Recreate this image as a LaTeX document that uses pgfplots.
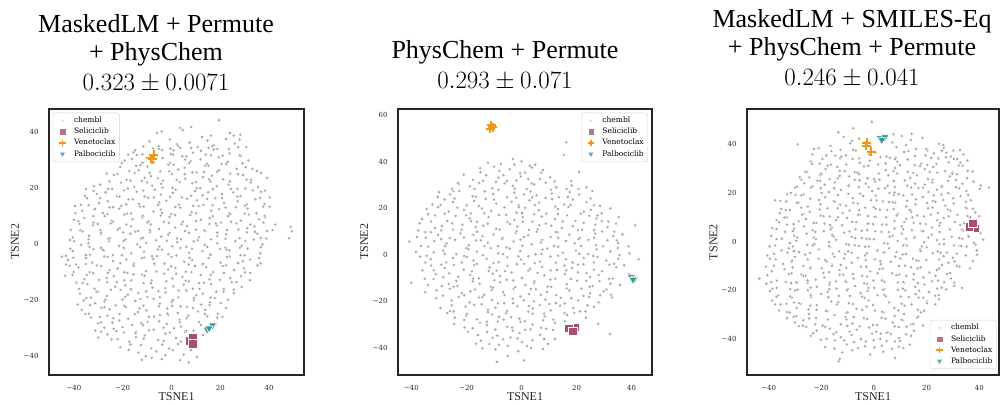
\documentclass[border=0pt]{standalone}
\usepackage[no-math]{fontspec}
\setmainfont{Liberation Serif}
\newfontfamily\dvs{DejaVu Serif}
\usepackage{pgfplots}
\pgfplotsset{compat=1.18}

\definecolor{selc}{RGB}{166,80,108}
\definecolor{venc}{RGB}{240,150,24}
\definecolor{palc}{RGB}{56,150,146}
\definecolor{frame}{RGB}{38,38,38}

\newcommand{\tickfont}{\dvs\fontsize{7}{8}\selectfont}
\newcommand{\titlefont}{\fontsize{26}{28}\selectfont}

\pgfplotsset{
  tsne/.style={
    scale only axis, height=266pt, anchor=south west,
    axis line style={draw=frame, line width=1.2pt},
    major tick length=0pt, tick style={draw=none},
    ticklabel style={font=\tickfont, text=frame},
    xtick={-40,-20,0,20,40}, xticklabels={−40,−20,0,20,40},
    xticklabel style={yshift=-7pt}, yticklabel style={xshift=-7pt},
    xlabel={TSNE1}, ylabel={TSNE2},
    every axis x label/.style={at={(axis description cs:0.5,-0.0977)}, anchor=base,
      font=\fontsize{12}{14}\selectfont, text=frame},
    every axis y label/.style={at={(axis description cs:-0.118,0.5)}, rotate=90, anchor=base,
      font=\fontsize{12}{14}\selectfont, text=frame},
    legend style={font=\dvs\fontsize{7.5}{8.5}\selectfont, draw=black!18, rounded corners=2pt,
      fill=white, fill opacity=0.8, text opacity=1, inner sep=2.5pt, row sep=0.6pt,
      nodes={inner sep=1.5pt, text height=5.8pt, text depth=1.7pt}},
    legend cell align=left,
    legend image code/.code={\path[draw=none, fill=none] (0pt,-2pt) rectangle (17pt,2pt);
      \draw[##1] plot coordinates {(7pt,0pt)};},
  },
  chem/.style={only marks, mark=*, mark size=1.8pt, mark options={fill=black!36, draw=white, line width=0.4pt}},
  sel/.style={only marks, mark=square*, mark size=4.3pt, mark options={fill=selc, draw=white, line width=0.6pt}},
  ven/.style={only marks, mark=+, mark size=4.5pt, mark options={draw=venc, line width=2.0pt}},
  pal/.style={only marks, mark=triangle*, mark size=4.6pt, mark options={rotate=180, fill=palc, draw=white, line width=0.6pt}},
}
\newcommand{\legendentries}{%
  \addlegendimage{only marks, mark=*, mark size=1.3pt, mark options={fill=black!30, draw=white, line width=0.2pt}}
  \addlegendentry{chembl}
  \addlegendimage{only marks, mark=square*, mark size=3.2pt, mark options={fill=selc, draw=white, line width=0.3pt}}
  \addlegendentry{Seliciclib}
  \addlegendimage{only marks, mark=+, mark size=3.2pt, mark options={draw=venc, line width=1.5pt}}
  \addlegendentry{Venetoclax}
  \addlegendimage{only marks, mark=triangle*, mark size=3.4pt, mark options={rotate=180, fill=palc, draw=white, line width=0.3pt}}
  \addlegendentry{Palbociclib}
}
\tikzset{ttl/.style={anchor=base, font=\titlefont, inner sep=0pt}}

\begin{document}
\begin{tikzpicture}
\useasboundingbox (0pt,0pt) rectangle (1000pt,404pt);

% ---------- panel 1 ----------
\begin{axis}[tsne, at={(49pt,29pt)}, width=255pt,
    xmin=-50.2, xmax=54.3, ymin=-46.9, ymax=48.2,
    ytick={-40,-20,0,20,40}, yticklabels={−40,−20,0,20,40},
    legend style={at={(0.015,0.986)}, anchor=north west}]
\legendentries
\addplot[chem, forget plot] coordinates {
(-6.0,39.6) (-4.0,40.2) (3.6,41.4) (4.7,40.6) (8.1,41.7) (12.5,38.2) (16.2,38.7) (19.5,44.2) (24.0,39.6) (25.5,38.7) (28.2,39.0) (27.9,37.3) (39.2,23.6) (-17.7,31.9) (-15.6,32.7) (-0.5,34.0) (0.8,33.4) (5.6,30.1) (15.2,34.3) (17.3,33.7)
(-9.0,36.6) (-5.3,34.9) (-0.7,37.3) (2.2,35.6) (7.4,36.2) (10.7,34.6) (14.8,36.9) (17.4,35.3) (22.3,37.5) (25.9,35.8)
(-14.9,33.4) (-11.9,32.0) (-7.6,34.1) (-3.9,33.6) (0.7,31.9) (3.6,34.3) (8.8,32.6) (12.1,33.2) (16.2,31.6) (18.8,33.9) (23.7,32.3) (27.3,34.5)
(-19.2,29.8) (-16.2,30.4) (-11.9,29.0) (-8.2,31.1) (-3.6,30.6) (-0.7,28.9) (4.5,31.3) (7.8,29.6) (11.9,30.2) (14.5,28.6) (19.4,30.9) (23.0,29.3) (28.5,31.5) (31.5,29.8)
(-21.0,27.4) (-17.3,26.0) (-12.7,28.1) (-9.8,27.6) (-4.6,25.9) (-1.3,28.3) (2.8,26.6) (5.4,27.2) (10.3,25.6) (13.9,27.9) (19.4,26.3) (22.4,28.5) (26.7,26.8) (30.4,27.4) (35.0,26.0)
(-26.5,25.1) (-23.6,24.6) (-18.4,22.9) (-15.1,25.3) (-11.0,23.6) (-8.4,24.2) (-3.5,22.6) (0.1,24.9) (5.6,23.3) (8.6,25.5) (12.9,23.8) (16.6,24.4) (21.2,23.0) (24.1,25.1) (29.3,24.6) (32.6,22.9) (36.7,25.3)
(-31.8,20.6) (-29.2,21.2) (-24.3,19.6) (-20.7,21.9) (-15.2,20.3) (-12.2,22.5) (-7.9,20.8) (-4.2,21.4) (0.4,20.0) (3.3,22.1) (8.5,21.6) (11.8,19.9) (15.9,22.3) (18.5,20.6) (23.4,21.2) (27.0,19.6) (32.5,21.9) (35.5,20.3)
(-35.0,19.5) (-30.7,17.8) (-27.0,18.4) (-22.4,17.0) (-19.5,19.1) (-14.3,18.6) (-11.0,16.9) (-6.9,19.3) (-4.3,17.6) (0.6,18.2) (4.2,16.6) (9.7,18.9) (12.7,17.3) (17.0,19.5) (20.7,17.8) (25.3,18.4) (28.2,17.0) (33.4,19.1) (36.7,18.6)
(-37.2,13.9) (-34.6,16.3) (-29.7,14.6) (-26.1,15.2) (-20.6,13.6) (-17.6,15.9) (-13.3,14.3) (-9.6,16.5) (-5.0,14.8) (-2.1,15.4) (3.1,14.0) (6.4,16.1) (10.5,15.6) (13.1,13.9) (18.0,16.3) (21.6,14.6) (27.1,15.2) (30.1,13.6) (34.4,15.9) (38.1,14.3)
(-39.5,13.5) (-36.6,11.8) (-31.4,12.4) (-28.1,11.0) (-24.0,13.1) (-21.4,12.6) (-16.5,10.9) (-12.9,13.3) (-7.4,11.6) (-4.4,12.2) (-0.1,10.6) (3.6,12.9) (8.2,11.3) (11.1,13.5) (16.3,11.8) (19.6,12.4) (23.7,11.0) (26.3,13.1) (31.2,12.6) (34.8,10.9) (40.3,13.3)
(-40.0,8.6) (-35.7,9.2) (-32.0,7.6) (-27.4,9.9) (-24.5,8.3) (-19.3,10.5) (-16.0,8.8) (-11.9,9.4) (-9.3,8.0) (-4.4,10.1) (-0.8,9.6) (4.7,7.9) (7.7,10.3) (12.0,8.6) (15.7,9.2) (20.3,7.6) (23.2,9.9) (28.4,8.3) (31.7,10.5) (35.8,8.8) (38.4,9.4)
(-41.3,5.0) (-37.7,7.1) (-32.2,6.6) (-29.2,4.9) (-24.9,7.3) (-21.2,5.6) (-16.6,6.2) (-13.7,4.6) (-8.5,6.9) (-5.2,5.3) (-1.1,7.5) (1.5,5.8) (6.4,6.4) (10.0,5.0) (15.5,7.1) (18.5,6.6) (22.8,4.9) (26.5,7.3) (31.1,5.6) (34.0,6.2) (39.2,4.6) (42.5,6.9) (48.8,6.0) (49.3,4.5) (48.2,2.0)
(-40.5,2.3) (-36.4,4.5) (-33.8,2.8) (-28.9,3.4) (-25.3,2.0) (-19.8,4.1) (-16.8,3.6) (-12.5,1.9) (-8.8,4.3) (-4.2,2.6) (-1.3,3.2) (3.9,1.6) (7.2,3.9) (11.3,2.3) (13.9,4.5) (18.8,2.8) (22.4,3.4) (27.9,2.0) (30.9,4.1) (35.2,3.6) (38.9,1.9)
(-41.6,1.3) (-37.0,-0.4) (-34.1,0.2) (-28.9,-1.4) (-25.6,0.9) (-21.5,-0.7) (-18.9,1.5) (-14.0,-0.2) (-10.4,0.4) (-4.9,-1.0) (-1.9,1.1) (2.4,0.6) (6.1,-1.1) (10.7,1.3) (13.6,-0.4) (18.8,0.2) (22.1,-1.4) (26.2,0.9) (28.8,-0.7) (33.7,1.5) (37.3,-0.2)
(-44.9,-4.6) (-43.2,-4.3) (-40.5,-2.6) (-35.0,-4.0) (-32.0,-1.9) (-27.7,-2.4) (-24.0,-4.1) (-19.4,-1.7) (-16.5,-3.4) (-11.3,-2.8) (-8.0,-4.4) (-3.9,-2.1) (-1.3,-3.7) (3.6,-1.5) (7.2,-3.2) (12.7,-2.6) (15.7,-4.0) (20.0,-1.9) (23.7,-2.4) (28.3,-4.1) (31.2,-1.7) (36.4,-3.4)
(-42.5,-5.8) (-39.2,-7.4) (-35.1,-5.1) (-32.5,-6.7) (-27.6,-4.5) (-24.0,-6.2) (-18.5,-5.6) (-15.5,-7.0) (-11.2,-4.9) (-7.5,-5.4) (-2.9,-7.1) (0.0,-4.7) (5.2,-6.4) (8.5,-5.8) (12.6,-7.4) (15.2,-5.1) (20.1,-6.7) (23.7,-4.5) (29.2,-6.2) (32.2,-5.6) (36.5,-7.0)
(-41.8,-7.9) (-38.1,-8.4) (-33.5,-10.1) (-30.6,-7.7) (-25.4,-9.4) (-22.1,-8.8) (-18.0,-10.4) (-15.4,-8.1) (-10.5,-9.7) (-6.9,-7.5) (-1.4,-9.2) (1.6,-8.6) (5.9,-10.0) (9.6,-7.9) (14.2,-8.4) (17.1,-10.1) (22.3,-7.7) (25.6,-9.4) (29.7,-8.8) (32.3,-10.4)
(-43.6,-11.4) (-40.6,-11.1) (-35.7,-12.7) (-32.1,-10.5) (-26.6,-12.2) (-23.6,-11.6) (-19.3,-13.0) (-15.6,-10.9) (-11.0,-11.4) (-8.1,-13.1) (-2.9,-10.7) (0.4,-12.4) (4.5,-11.8) (7.1,-13.4) (12.0,-11.1) (15.6,-12.7) (21.1,-10.5) (24.1,-12.2) (28.4,-11.6) (32.1,-13.0)
(-39.0,-13.9) (-34.4,-14.4) (-31.5,-16.1) (-26.3,-13.7) (-23.0,-15.4) (-18.9,-14.8) (-16.3,-16.4) (-11.4,-14.1) (-7.8,-15.7) (-2.3,-13.5) (0.7,-15.2) (5.0,-14.6) (8.7,-16.0) (13.3,-13.9) (16.2,-14.4) (21.4,-16.1) (24.7,-13.7) (28.8,-15.4)
(-37.5,-17.8) (-34.9,-19.4) (-30.0,-17.1) (-26.4,-18.7) (-20.9,-16.5) (-17.9,-18.2) (-13.6,-17.6) (-9.9,-19.0) (-5.3,-16.9) (-2.4,-17.4) (2.8,-19.1) (6.1,-16.7) (10.2,-18.4) (12.8,-17.8) (17.7,-19.4) (21.3,-17.1) (25.5,-17.6)
(-38.5,-21.7) (-36.0,-20.3) (-31.2,-21.2) (-27.5,-20.6) (-22.9,-22.0) (-20.0,-19.9) (-14.8,-20.4) (-11.5,-22.1) (-7.4,-19.7) (-4.8,-21.4) (0.1,-20.8) (3.7,-22.4) (9.2,-20.1) (12.2,-21.7) (15.8,-21.0) (20.2,-21.2)
(-36.8,-23.6) (-33.9,-25.0) (-28.7,-22.9) (-25.4,-23.4) (-21.3,-25.1) (-18.7,-22.7) (-13.8,-24.4) (-10.2,-23.8) (-4.7,-25.4) (-1.7,-23.1) (2.6,-24.7) (6.3,-22.5) (10.9,-24.2) (13.8,-23.6) (19.0,-25.0) (22.3,-22.9)
(-33.0,-26.4) (-28.9,-28.1) (-26.3,-25.7) (-21.4,-27.4) (-17.8,-26.8) (-12.3,-28.4) (-9.3,-26.1) (-5.0,-27.7) (-1.3,-25.5) (3.3,-27.2) (6.2,-26.6) (11.4,-28.0) (14.7,-25.9) (18.8,-26.4)
(-31.2,-31.1) (-27.5,-30.0) (-23.7,-30.4) (-20.1,-29.8) (-14.6,-31.4) (-11.6,-29.1) (-7.3,-30.7) (-3.2,-30.0) (1.0,-30.2) (3.9,-29.6) (9.1,-31.0) (18.2,-28.6)
(-30.0,-33.5) (-26.2,-32.4) (-22.1,-34.1) (-19.5,-31.7) (-14.6,-33.4) (-11.0,-32.8) (-5.5,-34.4) (-2.5,-32.1) (1.8,-33.7) (5.5,-31.5) (13.0,-32.6)
(-21.0,-37.0) (-16.8,-36.0) (-12.5,-36.2) (-8.4,-37.4) (-3.8,-36.0) (-0.9,-37.4) (2.7,-35.8)
(-13.5,-38.9) (-10.5,-40.2) (-6.2,-38.5) (-2.5,-39.8) (0.5,-38.0) (5.0,-39.6)
(-12.2,-41.5) (-8.1,-40.8) (-4.0,-41.2) (3.6,-41.6) (7.1,-42.4) (10.4,-40.5)
(-11.5,34.8) (-5.2,34.0) (2.7,35.1) (8.1,34.3) (16.7,34.9) (23.5,33.9) (30.7,34.6)
(-14.2,31.8) (-0.2,32.1) (6.1,31.3) (14.0,31.9) (21.0,31.5) (28.0,31.6)
(-20.3,28.8) (-14.5,27.9) (-7.2,29.1) (0.9,28.3) (7.2,28.9) (15.1,27.9) (20.5,28.6) (29.1,28.8)
(-22.1,25.0) (-13.5,26.3) (-9.0,25.3) (-0.9,25.9) (5.4,24.9) (13.3,25.6) (18.7,25.8) (27.3,25.0) (33.2,26.8)
(-25.4,22.3) (-16.8,22.6) (-10.0,21.9) (-5.5,23.4) (2.1,22.8) (10.0,22.0) (15.4,23.1) (24.0,22.3) (30.8,22.9)
(-31.9,18.9) (-26.0,19.6) (-17.9,19.8) (-11.6,19.0) (-3.7,20.1) (1.7,19.3) (10.3,19.9) (15.0,18.4) (24.3,19.6) (30.2,19.8) (38.3,19.0)
(-35.5,17.1) (-29.2,16.3) (-21.3,16.9) (-15.9,15.9) (-7.3,16.6) (-0.5,16.8) (8.0,17.2) (14.6,16.0) (20.7,16.3) (27.0,16.9) (36.3,16.5) (40.3,16.6)
(-34.0,13.8) (-25.4,13.0) (-18.6,14.1) (-11.4,13.3) (-5.5,13.9) (1.6,13.2) (8.9,13.6) (16.8,13.8) (22.2,13.0) (30.8,14.1) (37.6,13.3)
(-39.3,10.9) (-32.1,9.9) (-26.2,10.6) (-18.1,10.8) (-11.8,10.0) (-3.9,11.1) (1.5,10.3) (10.1,10.9) (16.9,9.9) (24.1,10.6) (30.0,10.8) (38.1,10.0)
(-38.1,8.1) (-30.2,7.1) (-23.9,7.9) (-18.5,6.9) (-9.9,7.6) (-3.1,7.8) (4.1,7.0) (10.0,8.1) (18.1,7.3) (24.4,7.9) (32.3,6.9) (37.7,7.6)
(-37.4,4.8) (-28.8,4.0) (-22.0,5.1) (-14.8,4.3) (-8.9,4.9) (-0.8,3.9) (5.5,4.6) (13.4,4.8) (18.8,4.0) (27.4,5.1) (34.2,4.3) (41.4,4.9)
(-39.9,0.9) (-34.0,1.6) (-25.9,1.8) (-19.6,1.0) (-11.7,2.1) (-6.3,1.3) (2.3,1.9) (9.1,0.9) (16.3,1.6) (22.2,1.8) (30.3,1.0) (36.6,2.1)
(-41.5,-1.7) (-33.6,-1.1) (-28.2,-2.1) (-19.6,-1.4) (-12.8,-1.2) (-5.6,-2.0) (0.3,-0.9) (8.4,-1.7) (14.7,-1.1) (22.6,-2.1) (28.0,-1.4) (36.6,-1.2)
(-40.2,-5.0) (-33.4,-3.9) (-26.2,-4.7) (-20.3,-4.1) (-12.2,-5.1) (-5.9,-4.4) (2.0,-4.2) (7.4,-5.0) (16.0,-3.9) (22.8,-4.7) (30.0,-4.1) (35.9,-5.1)
(-43.3,-7.4) (-35.2,-7.2) (-28.9,-8.0) (-21.0,-6.9) (-15.6,-7.7) (-7.0,-7.1) (-0.2,-8.1) (7.0,-7.4) (12.9,-7.2) (21.0,-8.0) (27.3,-6.9) (35.2,-7.7)
(-40.1,-10.1) (-34.7,-11.1) (-26.1,-10.4) (-19.3,-10.2) (-12.1,-11.0) (-6.2,-9.9) (1.9,-10.7) (8.2,-10.1) (16.1,-11.1) (21.5,-10.4) (30.1,-10.2)
(-36.4,-14.0) (-29.6,-12.9) (-22.4,-13.7) (-16.5,-13.1) (-8.4,-14.1) (-2.1,-13.4) (5.8,-13.2) (11.2,-14.0) (19.8,-12.9) (26.6,-13.7)
(-37.9,-16.1) (-30.7,-17.1) (-24.8,-16.4) (-16.7,-16.2) (-10.4,-17.0) (-2.5,-15.9) (2.9,-16.7) (11.5,-16.1) (18.3,-17.1) (25.5,-16.4)
(-33.0,-19.2) (-27.1,-20.0) (-19.0,-18.9) (-12.7,-19.7) (-4.8,-19.1) (0.6,-20.1) (9.2,-19.4) (16.0,-19.2) (23.2,-20.0)
(-33.4,-21.9) (-27.5,-22.7) (-19.4,-22.1) (-13.1,-23.1) (-5.2,-22.4) (0.2,-22.2) (8.8,-23.0) (15.6,-21.9)
(-35.3,-25.1) (-29.4,-26.1) (-23.8,-26.6) (-15.0,-25.2) (-7.1,-26.0) (-1.7,-24.9) (6.9,-25.7) (13.7,-25.1) (20.9,-26.1)
(-30.1,-28.4) (-24.2,-28.2) (-16.1,-29.0) (-9.8,-27.9) (-1.9,-28.7) (3.5,-28.1) (12.1,-29.1)
(-28.9,-31.4) (-22.6,-31.2) (-14.7,-32.0) (-9.3,-30.9) (-0.7,-31.7) (6.1,-31.1)
(-24.5,-34.2) (-17.3,-35.0) (-11.4,-33.9) (-3.3,-34.7) (3.8,-35.0)
(-17.5,-37.9) (8.0,-38.0)
};
\addplot[sel, forget plot] coordinates {(7.6,-34.6) (8.8,-33.7) (8.8,-35.8)};
\addplot[ven, forget plot] coordinates {(-7.8,30.2) (-8.6,30.6) (-7.3,31.9)};
\addplot[pal, forget plot] coordinates {(14.6,-30.6) (16.8,-29.2) (15.4,-30.2)};
\end{axis}

% ---------- panel 2 ----------
\begin{axis}[tsne, at={(398pt,29pt)}, width=254pt,
    xmin=-44.9, xmax=47.4, ymin=-51.6, ymax=62.6,
    ytick={-40,-20,0,20,40,60}, yticklabels={−40,−20,0,20,40,60},
    legend style={at={(0.984,0.986)}, anchor=north east}]
\legendentries
\addplot[chem, forget plot] coordinates {
(16.3,48.3) (15.3,42.9) (-12.2,39.6) (20.9,35.7) (41.3,12.6)
(-7.5,39.1) (-3.1,41.2) (0.0,40.1) (5.0,38.7)
(-15.0,37.2) (-8.1,36.0) (-4.3,36.8) (1.3,35.3) (3.8,37.4) (7.8,36.4)
(-21.0,34.4) (-17.6,32.1) (-12.8,34.2) (-8.4,33.1) (-5.3,31.7) (-0.3,33.7) (2.4,32.5) (6.6,32.5) (10.4,33.3)
(-25.3,28.3) (-22.8,30.4) (-18.8,29.4) (-15.4,30.9) (-10.6,28.6) (-6.2,30.7) (-3.1,29.6) (1.9,28.2) (4.6,30.2) (8.8,31.0) (12.6,29.0) (18.2,29.8) (20.7,28.3)
(-30.0,26.9) (-26.0,25.9) (-22.6,27.4) (-17.8,25.1) (-13.4,27.2) (-10.3,26.1) (-5.3,24.7) (-2.6,26.7) (0.9,25.9) (5.4,25.5) (11.0,26.3) (13.5,24.8) (17.5,26.9) (20.9,25.9) (25.7,27.4)
(-32.4,21.6) (-28.0,23.7) (-24.9,22.6) (-19.9,21.2) (-17.2,23.2) (-13.0,24.0) (-9.2,22.0) (-3.6,22.8) (-1.1,21.3) (2.9,23.4) (6.3,22.4) (11.1,23.9) (15.5,21.6) (18.6,23.7) (23.6,22.6) (26.3,21.2)
(-34.5,19.7) (-30.3,20.5) (-26.5,18.5) (-20.9,19.3) (-18.4,17.8) (-14.4,19.9) (-11.0,18.9) (-6.2,20.4) (-1.8,18.1) (1.3,20.2) (6.3,19.1) (9.0,17.7) (13.2,19.7) (17.0,20.5) (22.6,18.5) (25.1,19.3) (29.1,17.8) (32.3,19.9)
(-36.2,15.4) (-31.4,16.9) (-27.0,14.6) (-23.9,16.7) (-18.9,15.6) (-16.2,14.2) (-12.0,16.2) (-8.2,17.0) (-2.6,15.0) (0.4,16.2) (3.9,14.3) (7.3,16.4) (12.1,15.4) (16.5,16.9) (19.6,14.6) (24.6,16.7) (27.3,15.6) (31.5,14.2) (35.3,16.2)
(-37.0,13.5) (-31.4,11.5) (-28.9,12.3) (-24.9,10.8) (-21.5,12.9) (-16.7,11.9) (-12.3,13.4) (-9.2,11.1) (-4.2,13.2) (-1.5,12.1) (2.7,10.7) (6.5,12.7) (10.8,12.5) (14.6,11.5) (18.6,12.3) (22.0,10.8) (26.8,12.9) (31.2,11.9) (34.3,13.4) (-37.5,10.4)
(-38.0,7.6) (-33.0,9.7) (-30.3,8.6) (-26.1,7.2) (-22.3,9.2) (-17.5,8.6) (-14.2,8.0) (-10.2,8.8) (-6.8,7.3) (-2.0,9.4) (2.4,8.4) (5.5,9.9) (10.5,7.6) (13.2,9.7) (17.4,8.6) (21.2,7.2) (26.8,9.2) (29.3,10.0) (33.3,8.0) (36.7,8.8)
(-36.5,3.8) (-31.7,5.9) (-27.3,4.9) (-24.2,6.4) (-19.2,4.1) (-16.5,6.2) (-12.3,5.1) (-8.5,3.7) (-2.9,5.7) (-0.4,6.5) (3.6,4.5) (7.0,5.3) (11.8,3.8) (16.2,5.9) (19.3,4.9) (24.3,6.4) (27.0,4.1) (31.2,6.2) (35.0,5.1) (38.9,3.7) (-40.8,5.7)
(-38.4,1.2) (-31.9,1.0) (-28.5,1.8) (-23.7,0.3) (-19.3,2.4) (-16.2,1.4) (-11.2,2.9) (-8.5,0.6) (-4.3,2.7) (-0.5,1.6) (5.1,0.2) (7.6,2.2) (15.0,1.0) (19.8,1.8) (24.2,0.3) (27.3,2.4) (32.3,1.4) (35.0,2.9) (39.2,0.6)
(-36.8,-0.8) (-33.0,-1.9) (-27.4,-3.3) (-24.9,-1.3) (-20.9,-0.5) (-17.5,-2.5) (-12.7,-1.7) (-8.3,-3.2) (-5.2,-1.1) (-0.2,-2.1) (2.5,-0.6) (6.7,-2.9) (10.5,-0.8) (16.1,-1.9) (18.6,-3.3) (22.6,-1.3) (26.0,-0.5) (30.8,-2.5) (35.2,-1.7) (42.5,-1.9)
(-36.0,-6.7) (-32.9,-4.6) (-27.9,-5.6) (-24.6,-4.4) (-21.0,-6.4) (-17.2,-4.3) (-11.6,-5.4) (-9.1,-6.8) (-5.1,-4.8) (-1.7,-4.0) (3.1,-6.0) (7.5,-5.2) (10.6,-6.7) (15.6,-4.6) (18.3,-5.6) (22.5,-4.1) (26.3,-6.4) (31.9,-4.3) (34.4,-5.4) (37.3,-4.5)
(-35.2,-10.3) (-31.2,-8.3) (-28.4,-9.6) (-23.0,-9.5) (-18.6,-8.7) (-15.5,-10.2) (-10.5,-8.1) (-7.8,-9.1) (-3.6,-7.6) (0.2,-9.9) (5.8,-7.8) (8.3,-8.9) (12.3,-10.3) (15.7,-8.3) (20.5,-7.5) (24.9,-9.5) (28.0,-8.7) (33.0,-10.2) (39.0,-8.3)
(-40.0,-12.0) (-34.0,-13.0) (-26.5,-12.5) (-23.3,-13.4) (-17.7,-11.3) (-15.2,-12.4) (-11.2,-13.8) (-7.8,-11.8) (-3.0,-11.0) (1.4,-13.0) (4.5,-12.2) (9.5,-13.7) (16.4,-12.6) (20.2,-11.1) (25.8,-13.4) (28.3,-11.3) (32.3,-12.4) (35.8,-13.0)
(-35.0,-16.0) (-30.9,-15.3) (-26.1,-14.5) (-21.7,-16.5) (-18.6,-15.7) (-13.6,-17.2) (-10.9,-15.1) (-6.7,-16.1) (-2.9,-14.6) (2.7,-16.9) (5.2,-14.8) (9.2,-15.9) (12.6,-17.3) (17.4,-15.3) (21.8,-14.5) (24.9,-16.5) (29.9,-15.7) (32.6,-17.2)
(-31.0,-18.6) (-25.4,-19.6) (-22.9,-18.1) (-18.9,-20.4) (-15.5,-18.3) (-10.7,-19.4) (-6.3,-20.8) (-3.2,-18.8) (0.8,-19.6) (4.5,-20.0) (8.7,-19.2) (12.5,-20.7) (18.1,-18.6) (20.6,-19.6) (24.6,-18.1) (28.0,-20.4) (32.8,-18.3)
(-29.5,-22.9) (-24.7,-24.3) (-20.3,-22.3) (-17.2,-21.5) (-12.2,-23.5) (-9.5,-22.7) (-5.3,-24.2) (-1.5,-22.1) (4.1,-23.1) (6.6,-21.6) (10.6,-23.9) (14.0,-21.8) (18.8,-22.9) (23.2,-24.3) (26.3,-22.3)
(-27.0,-25.0) (-24.3,-27.0) (-20.1,-26.2) (-16.3,-27.7) (-10.7,-25.6) (-8.2,-26.6) (-3.8,-26.8) (-0.8,-27.4) (4.0,-25.3) (8.4,-26.4) (11.5,-27.8) (16.5,-25.8) (19.2,-25.0) (23.4,-27.0) (27.8,-29.6)
(-24.5,-29.7) (-20.7,-31.2) (-15.1,-29.1) (-12.6,-30.1) (-8.6,-28.6) (-5.2,-30.9) (-0.4,-28.8) (4.0,-29.9) (7.1,-31.3) (12.1,-29.3) (20.5,-30.0)
(-19.5,-33.0) (-15.8,-34.5) (-12.6,-33.2) (-8.8,-34.7) (-3.2,-32.6) (-0.7,-33.6) (3.3,-32.1) (6.7,-34.4) (11.5,-32.3) (32.1,-34.0)
(-14.8,-36.9) (-11.7,-38.3) (-6.7,-36.3) (-4.0,-35.5) (0.2,-37.5) (4.0,-36.7) (9.6,-38.2) (12.1,-36.1)
(-14.2,-40.2) (-9.5,-40.6) (-5.0,-39.1) (-1.2,-41.4) (3.5,-40.0) (7.8,-40.5)
(-9.0,-46.0) (0.9,-45.3) (-5.0,-43.5)
(-10.0,37.9) (-2.6,38.8) (3.0,38.2)
(-14.9,35.4) (-6.6,34.2) (-0.5,35.0) (7.2,35.2)
(-23.1,30.9) (-14.0,31.8) (-9.3,31.2) (-1.9,31.9) (3.7,30.7) (12.0,31.5) (18.1,31.7)
(-24.8,27.4) (-17.1,28.3) (-8.4,27.9) (-2.5,28.4) (3.3,27.2) (10.7,28.0) (16.3,28.2) (23.6,29.0)
(-30.4,24.8) (-24.3,24.2) (-16.6,24.9) (-10.0,23.7) (-2.0,24.5) (3.8,24.7) (8.7,24.4) (16.8,24.8) (25.1,24.2)
(-29.4,21.4) (-23.3,20.2) (-15.6,21.0) (-1.0,20.4) (4.8,21.3) (12.2,20.7) (17.8,21.4) (28.5,21.0)
(-34.0,17.5) (-27.9,17.7) (-20.2,16.9) (-13.6,17.8) (-5.6,17.2) (0.2,17.9) (4.6,17.4) (13.2,17.5) (21.5,17.7) (27.6,16.9)
(-32.9,14.3) (-25.2,13.5) (-18.3,14.4) (-13.9,12.5) (-5.1,14.0) (0.5,14.2) (8.8,13.4) (14.9,14.3) (22.6,13.7) (29.2,14.4)
(-35.0,9.7) (-29.2,10.5) (-21.8,10.7) (-16.2,9.9) (-7.9,10.8) (-1.8,10.2) (5.9,10.9) (12.5,9.7) (20.5,10.5) (26.3,10.7) (33.7,9.9)
(-34.8,7.3) (-29.2,6.7) (-20.9,7.4) (-14.8,6.2) (-7.1,6.9) (0.9,7.6) (7.5,6.4) (13.3,7.3) (20.7,6.7) (26.3,7.4) (34.6,6.2)
(-33.9,3.5) (-27.8,3.7) (-20.1,2.9) (-13.5,3.8) (-5.5,3.2) (0.3,3.9) (9.4,2.7) (13.3,3.5) (21.6,3.7) (29.6,3.6)
(-34.5,-0.4) (-27.9,0.4) (-19.9,-0.9) (-14.1,-0.1) (-6.7,0.2) (-1.1,-0.7) (7.2,0.3) (13.3,-0.4) (21.0,0.4) (27.6,-0.9) (35.6,-0.1)
(-35.0,-3.4) (-29.2,-4.2) (-21.8,-3.3) (-16.2,-3.9) (-10.2,-3.6) (1.0,-3.9) (4.8,-3.6) (12.5,-3.4) (20.5,-4.2) (26.3,-3.3) (33.7,-3.9)
(-31.9,-6.7) (-26.3,-7.9) (-18.0,-7.1) (-11.9,-6.9) (-5.9,-7.0) (2.4,-6.8) (12.8,-6.5) (16.2,-6.7) (23.6,-7.9) (29.2,-7.1)
(-32.0,-10.4) (-23.7,-11.2) (-17.6,-10.3) (-9.9,-10.9) (-5.4,-10.8) (4.7,-11.4) (10.5,-10.6) (17.9,-10.4) (23.5,-11.2) (31.8,-10.3)
(-29.0,-13.4) (-24.7,-13.7) (-17.0,-14.9) (-10.4,-14.1) (-2.4,-13.9) (3.4,-14.7) (10.8,-13.8) (16.4,-14.4) (24.7,-13.7) (30.8,-14.9)
(-28.5,-17.6) (-20.8,-17.4) (-14.2,-18.2) (-6.2,-17.3) (-0.4,-17.9) (7.0,-17.2) (14.2,-18.4) (22.5,-17.6) (28.6,-17.4)
(-25.4,-21.7) (-14.5,-21.2) (-8.6,-20.9) (-3.1,-20.7) (2.7,-21.9) (10.1,-21.1) (15.7,-20.9) (24.0,-21.7)
(-26.0,-24.3) (-19.9,-25.4) (-12.2,-24.6) (-5.6,-25.1) (2.4,-24.4) (8.2,-25.2) (15.6,-24.9) (21.2,-24.3)
(-20.9,-28.0) (-12.6,-28.7) (-6.5,-27.8) (1.2,-28.5) (7.8,-28.1) (15.8,-28.6)
(-17.8,-31.5) (-9.5,-32.1) (-3.4,-31.3) (1.3,-32.2) (9.0,-31.7)
(-10.5,-35.6) (-1.5,-35.9) (8.2,-36.2)
(-8.2,-38.6) (2.0,-39.2) (-16.5,-38.2)
};
\addplot[sel, forget plot] coordinates {(19.5,-31.2) (17.2,-31.6) (18.7,-32.9)};
\addplot[ven, forget plot] coordinates {(-10.4,54.8) (-11.0,55.6) (-11.3,54.1)};
\addplot[pal, forget plot] coordinates {(39.9,-9.5) (41.2,-10.2) (40.5,-10.7)};
\end{axis}

% ---------- panel 3 ----------
\begin{axis}[tsne, at={(747pt,29pt)}, width=252pt,
    xmin=-48.2, xmax=47.5, ymin=-54.8, ymax=54.5,
    ytick={-40,-20,0,20,40}, yticklabels={−40,−20,0,20,40},
    legend style={at={(0.99,0.022)}, anchor=south east}]
\legendentries
\addplot[chem, forget plot] coordinates {
(-13.5,44.9) (-7.8,46.6) (-0.8,49.3) (7.4,44.1) (14.3,44.3)
(-11.5,43.0) (-8.3,41.4) (-5.6,42.3) (7.0,40.7) (10.5,43.4) (14.0,41.8) (18.5,42.7)
(-29.0,40.0) (-21.0,38.4) (-16.5,39.3) (-12.7,37.7) (-9.0,40.4) (8.5,38.8) (12.2,39.7) (16.0,38.0) (20.3,37.5) (24.8,40.2) (26.5,38.5)
(-23.4,35.8) (-18.1,35.4) (-14.6,35.2) (-10.6,35.4) (-6.9,37.4) (-1.8,35.8) (0.6,36.7) (4.8,35.0) (8.3,34.5) (13.1,37.2) (19.6,35.4) (22.8,36.3) (27.3,34.7) (30.1,37.4) (34.0,35.8)
(-24.0,33.0) (-20.6,32.0) (-16.4,31.5) (-12.9,34.2) (-8.1,34.0) (-5.4,32.4) (-1.6,33.3) (1.6,31.7) (6.1,34.4) (8.9,32.8) (12.8,33.7) (17.9,32.0) (20.3,31.5) (24.5,34.2) (32.8,32.4) (35.5,33.3)
(-25.4,28.7) (-18.4,29.8) (-13.9,30.7) (-11.1,29.0) (-7.2,28.5) (-2.1,31.2) (4.5,29.4) (8.0,30.3) (12.8,28.7) (15.5,31.4) (19.3,29.8) (22.5,30.7) (27.0,29.0) (29.8,28.5) (33.7,31.2)
(-28.2,26.5) (-24.6,26.4) (-20.4,27.3) (-16.9,25.7) (-13.0,27.0) (-9.4,26.8) (-5.6,27.7) (-2.4,26.0) (2.1,25.5) (5.5,27.3) (8.8,28.0) (13.9,26.4) (16.3,27.3) (20.5,25.7) (24.0,28.4) (28.8,26.8) (31.5,27.7) (35.3,26.0)
(-29.2,22.5) (-26.4,24.0) (-21.5,25.0) (-18.7,23.4) (-14.8,24.3) (-9.7,22.7) (-7.3,25.4) (-3.1,23.8) (0.4,24.7) (5.2,23.0) (7.9,22.5) (11.7,25.2) (15.6,23.8) (19.4,23.4) (22.2,24.3) (26.1,22.7) (31.2,25.4) (33.6,23.8) (37.8,24.7)
(-31.5,20.0) (-26.7,19.5) (-24.0,22.2) (-20.2,22.0) (-17.0,20.4) (-12.5,21.3) (-9.7,19.7) (-5.8,22.4) (-0.7,20.8) (1.7,21.7) (5.9,20.0) (9.4,19.5) (14.2,22.2) (16.9,22.0) (20.7,20.4) (23.9,21.3) (28.4,19.7) (31.2,22.4) (35.1,20.8) (40.2,21.7) (43.7,22.2)
(-37.5,17.0) (-33.3,16.5) (-29.8,19.2) (-24.2,17.6) (-18.5,18.3) (-15.3,16.7) (-8.0,17.8) (-4.1,18.7) (1.0,17.0) (3.4,16.5) (7.6,19.2) (11.1,19.0) (15.9,17.4) (18.6,18.3) (22.4,16.7) (25.6,19.4) (30.1,17.8) (32.9,18.7) (36.8,17.0)
(-35.2,13.5) (-28.6,16.0) (-25.1,14.4) (-20.3,15.3) (-17.6,13.7) (-12.8,15.2) (-10.6,14.8) (-6.1,15.7) (-3.3,14.0) (0.6,13.5) (5.7,16.2) (8.1,16.0) (12.3,14.4) (15.8,15.3) (20.6,13.7) (23.3,16.4) (27.1,14.8) (30.3,15.7) (34.8,14.0) (37.6,13.5)
(-35.8,11.7) (-31.9,13.0) (-26.8,11.4) (-24.4,12.3) (-20.2,10.7) (-11.9,11.8) (-9.2,12.7) (-5.4,11.0) (-2.2,10.5) (2.3,13.2) (5.1,13.0) (9.0,11.4) (14.1,12.3) (16.5,10.7) (24.2,11.8) (29.0,12.7) (31.7,11.0) (35.5,10.5) (38.5,12.0)
(-37.0,8.8) (-33.1,10.0) (-28.6,8.4) (-25.8,9.3) (-21.9,7.7) (-16.8,10.4) (-14.4,8.8) (-10.2,9.7) (-6.7,8.0) (-1.9,7.5) (0.8,10.2) (4.6,10.0) (7.8,8.4) (12.3,9.3) (15.1,7.7) (19.0,10.4) (24.1,8.8) (26.5,9.7) (30.7,8.0) (34.2,7.5) (40.0,10.5)
(-38.6,5.6) (-33.0,7.0) (-30.3,5.4) (-26.5,6.3) (-23.3,4.7) (-18.8,7.4) (-16.0,5.8) (-12.1,6.7) (-7.0,5.0) (-4.6,4.5) (-0.4,7.2) (3.1,7.0) (7.9,5.4) (10.6,6.3) (14.4,4.7) (17.6,7.4) (22.1,5.8) (24.9,6.7) (28.8,5.0) (33.9,4.5) (40.5,3.5)
(-39.0,2.4) (-33.8,4.0) (-30.3,2.4) (-25.5,3.3) (-22.8,1.7) (-19.0,4.4) (-15.8,2.8) (-11.3,3.7) (-8.5,2.0) (-4.6,1.5) (0.5,4.2) (2.9,4.0) (7.1,2.4) (10.6,3.3) (15.4,1.7) (18.1,4.4) (21.9,2.8) (25.1,3.7) (29.6,2.0) (32.4,1.5) (35.8,2.5)
(-37.0,1.0) (-31.9,-0.6) (-29.5,0.3) (-25.3,-1.3) (-17.0,-0.2) (-14.3,0.7) (-10.5,-1.0) (-7.3,-1.5) (-2.8,1.2) (0.0,1.0) (3.9,-0.6) (9.0,0.3) (11.4,-1.3) (19.1,-0.2) (23.9,0.7) (26.6,-1.0) (30.4,-1.5) (33.6,1.2) (38.0,-0.5) (41.5,0.8)
(-39.6,-2.0) (-35.1,-3.6) (-32.3,-2.7) (-28.4,-4.3) (-23.3,-1.6) (-20.9,-3.2) (-16.7,-2.3) (-13.2,-4.0) (-8.4,-4.5) (-5.7,-1.8) (-1.9,-2.0) (1.3,-3.6) (5.8,-2.7) (8.6,-4.3) (12.5,-1.6) (17.6,-3.2) (20.0,-2.3) (24.2,-4.0) (27.7,-4.5) (32.5,-1.8) (35.2,-2.0) (39.0,-3.6)
(-40.5,-5.7) (-37.3,-7.3) (-32.8,-4.6) (-30.0,-6.2) (-26.1,-5.3) (-21.0,-7.0) (-18.6,-7.5) (-15.0,-6.2) (-10.9,-5.0) (-6.1,-6.6) (-3.4,-5.7) (0.4,-7.3) (3.6,-4.6) (8.1,-6.2) (10.9,-5.3) (14.8,-7.0) (19.9,-7.5) (22.3,-4.8) (26.5,-6.0) (30.0,-6.6) (34.8,-5.7) (39.2,-5.4) (37.5,-8.0)
(-41.0,-10.3) (-34.5,-9.2) (-31.3,-8.3) (-26.8,-10.0) (-24.0,-10.5) (-16.0,-9.4) (-12.6,-9.6) (-8.4,-8.7) (-4.9,-10.3) (2.6,-9.2) (6.4,-8.3) (9.6,-10.0) (14.1,-10.5) (16.9,-7.8) (25.9,-9.6) (28.3,-8.7) (32.5,-10.3) (36.5,-11.0)
(-38.8,-12.2) (-34.0,-11.3) (-31.3,-13.0) (-27.5,-13.5) (-19.8,-11.0) (-17.0,-12.6) (-13.1,-11.7) (-8.0,-13.3) (-1.4,-12.2) (2.1,-11.3) (6.9,-13.0) (9.6,-13.5) (16.6,-11.0) (21.1,-12.6) (23.9,-11.7) (27.8,-13.3)
(-43.5,-15.2) (-36.9,-16.0) (-33.4,-16.5) (-25.9,-14.0) (-22.1,-15.6) (-18.9,-14.7) (-14.4,-16.3) (-11.6,-13.6) (-7.7,-15.2) (-2.6,-14.3) (-0.2,-16.0) (4.0,-16.5) (12.3,-14.0) (15.0,-15.6) (18.8,-14.7) (22.0,-16.3) (29.3,-15.2)
(-40.8,-17.3) (-36.9,-19.0) (-31.8,-19.5) (-29.4,-16.8) (-25.2,-17.0) (-21.7,-18.6) (-16.9,-17.7) (-14.2,-19.3) (-10.4,-16.6) (-7.2,-18.2) (-2.7,-17.3) (0.1,-19.0) (4.0,-19.5) (9.1,-16.8) (11.5,-17.0) (15.7,-18.6) (19.2,-17.7) (24.0,-19.3) (26.7,-16.6) (30.5,-18.2) (33.5,-19.0)
(-39.5,-20.3) (-36.3,-22.0) (-31.8,-22.5) (-29.0,-19.8) (-25.1,-20.0) (-20.0,-21.6) (-17.6,-20.7) (-13.4,-22.3) (-9.9,-19.6) (-5.1,-21.2) (-2.4,-20.3) (1.4,-22.0) (4.6,-22.5) (9.1,-19.8) (11.9,-20.0) (15.8,-21.6) (20.9,-20.7) (23.3,-22.3) (27.5,-19.6)
(-38.7,-24.2) (-30.4,-25.0) (-27.7,-25.5) (-23.9,-22.8) (-16.2,-24.6) (-9.5,-25.3) (-4.4,-22.6) (-2.0,-24.2) (5.7,-25.0) (10.5,-25.5) (13.2,-22.8) (17.0,-23.0) (20.2,-24.6) (24.7,-23.7)
(-36.0,-28.3) (-33.2,-25.6) (-29.3,-27.2) (-24.2,-26.3) (-21.8,-28.0) (-17.6,-28.5) (-14.1,-25.8) (-6.6,-27.6) (-2.8,-26.7) (0.4,-28.3) (7.7,-27.2) (11.6,-26.3) (16.7,-28.0) (19.1,-28.5) (23.3,-25.8) (-37.5,-25.8)
(-33.0,-29.0) (-29.5,-30.6) (-24.7,-29.7) (-22.0,-31.3) (-15.0,-30.2) (-10.5,-29.3) (-7.7,-31.0) (-3.8,-31.5) (3.7,-29.0) (7.9,-30.6) (11.4,-29.7) (16.2,-31.3) (-33.0,-31.4)
(-30.0,-33.2) (-26.8,-32.3) (-22.3,-34.0) (-19.5,-34.5) (-10.5,-32.0) (-8.1,-33.6) (-0.4,-34.3) (4.4,-31.6) (7.1,-33.2) (10.9,-32.3) (14.1,-34.0) (18.6,-34.5)
(-28.5,-34.8) (-25.7,-35.0) (-21.8,-36.6) (-16.7,-35.7) (-14.3,-37.3) (-10.1,-34.6) (-6.6,-36.2) (-1.8,-35.3) (0.9,-37.0) (4.7,-37.5) (7.9,-34.8) (12.4,-35.0) (15.2,-36.6)
(-24.0,-38.7) (-20.1,-40.3) (-12.6,-39.2) (-8.4,-38.3) (-4.9,-40.0) (-0.1,-40.5) (2.6,-37.8) (6.4,-38.0) (9.6,-39.6) (14.1,-38.7)
(-18.5,-43.3) (-14.8,-40.6) (-10.3,-42.2) (-7.6,-41.3) (-3.4,-43.0) (0.2,-43.5) (4.8,-40.8) (8.0,-41.0) (11.2,-43.7) (13.7,-42.3)
(-12.0,-45.5) (-8.2,-44.6) (-1.4,-46.4) (3.5,-45.2) (6.8,-44.0) (8.0,-47.8) (-13.0,-48.2) (-13.4,-49.2)
(27.5,36.5) (29.2,35.0) (28.4,32.6) (31.6,33.9) (26.4,39.7) (32.7,37.7) (37.5,28.8)
(-22.8,38.0) (-16.1,37.2) (-7.9,37.7) (11.4,36.9) (19.9,38.1) (25.8,37.4)
(-19.5,34.0) (-12.4,35.0) (-5.7,34.2) (2.5,34.7) (8.0,33.9) (15.6,35.1) (21.8,34.4) (30.3,34.0)
(-23.5,32.0) (-17.6,31.2) (-10.5,31.7) (-3.8,30.9) (4.4,32.1) (9.9,31.4) (17.5,31.0) (23.7,32.0) (32.2,31.2)
(-26.0,28.7) (-20.1,27.9) (-13.0,29.1) (-6.3,28.4) (1.9,28.0) (7.4,29.0) (15.0,28.2) (21.2,28.7) (29.7,27.9) (35.6,29.1)
(-27.5,25.4) (-20.4,25.0) (-13.7,26.0) (-5.5,25.2) (0.0,25.7) (7.6,24.9) (13.8,26.1) (22.3,25.4) (28.2,25.0) (35.3,26.0)
(-30.0,22.2) (-23.3,22.7) (-15.1,21.9) (-9.6,23.1) (-2.0,22.4) (4.2,22.0) (12.7,23.0) (18.6,22.2) (25.7,22.7) (32.4,21.9) (40.6,23.1)
(-33.0,19.4) (-27.5,19.0) (-19.9,20.0) (-13.7,19.2) (-5.2,19.7) (0.7,18.9) (7.8,20.1) (14.5,19.4) (22.7,19.0) (28.2,20.0) (35.8,19.2)
(-35.5,16.7) (-29.3,15.9) (-20.8,17.1) (-14.9,16.4) (-7.8,16.0) (-1.1,17.0) (7.1,16.2) (12.6,16.7) (20.2,15.9) (26.4,17.1) (34.9,16.4)
(-33.5,13.0) (-27.6,14.0) (-20.5,13.2) (-13.8,13.7) (-5.6,12.9) (-0.1,14.1) (7.5,13.4) (13.7,13.0) (22.2,14.0) (28.1,13.2) (35.2,13.7)
(-34.0,9.9) (-27.3,11.1) (-19.1,10.4) (-13.6,10.0) (-6.0,11.0) (0.2,10.2) (8.7,10.7) (14.6,9.9) (21.7,11.1) (28.4,10.4) (36.6,10.0)
(-36.0,8.0) (-30.5,7.2) (-22.9,7.7) (-16.7,6.9) (-8.2,8.1) (-2.3,7.4) (4.8,7.0) (11.5,8.0) (19.7,7.2) (25.2,7.7) (32.8,6.9)
(-37.0,5.1) (-30.8,4.4) (-22.3,4.0) (-16.4,5.0) (-9.3,4.2) (-2.6,4.7) (5.6,3.9) (11.1,5.1) (18.7,4.4) (24.9,4.0) (33.4,5.0)
(-35.0,1.2) (-29.1,1.7) (-22.0,0.9) (-15.3,2.1) (-7.1,1.4) (-1.6,1.0) (6.0,2.0) (12.2,1.2) (20.7,1.7) (26.6,0.9) (36.0,2.1)
(-37.5,-1.6) (-30.8,-2.0) (-22.6,-1.0) (-17.1,-1.8) (-9.5,-1.3) (-3.3,-2.1) (5.2,-0.9) (11.1,-1.6) (18.2,-2.0) (24.9,-1.0) (33.1,-1.8) (38.6,-1.3)
(-38.0,-5.1) (-30.4,-3.9) (-24.2,-4.6) (-15.7,-5.0) (-9.8,-4.0) (-2.7,-4.8) (4.0,-4.3) (12.2,-5.1) (17.7,-3.9) (25.3,-4.6) (31.5,-5.0)
(-39.5,-7.0) (-31.0,-7.8) (-25.1,-7.3) (-18.0,-8.1) (-11.3,-6.9) (-3.1,-7.6) (2.4,-8.0) (10.0,-7.0) (16.2,-7.8) (24.7,-7.3) (30.6,-8.1)
(-38.0,-9.9) (-30.9,-10.6) (-24.2,-11.0) (-16.0,-10.0) (-10.5,-10.8) (-2.9,-10.3) (3.3,-11.1) (11.8,-9.9) (17.7,-10.6) (24.8,-11.0) (31.5,-10.0)
(-40.5,-13.8) (-32.3,-13.3) (-26.8,-14.1) (-19.2,-12.9) (-13.0,-13.6) (-4.5,-14.0) (1.4,-13.0) (8.5,-13.8) (15.2,-13.3) (23.4,-14.1) (28.9,-12.9)
(-39.0,-16.6) (-31.4,-17.0) (-25.2,-16.0) (-16.7,-16.8) (-10.8,-16.3) (-3.7,-17.1) (3.0,-15.9) (11.2,-16.6) (16.7,-17.0) (24.3,-16.0) (30.5,-16.8)
(-38.5,-19.3) (-30.0,-20.1) (-24.1,-18.9) (-17.0,-19.6) (-10.3,-20.0) (-2.1,-19.0) (3.4,-19.8) (11.0,-19.3) (17.2,-20.1) (25.7,-18.9)
(-37.0,-22.6) (-31.1,-23.0) (-24.0,-22.0) (-17.3,-22.8) (-9.1,-22.3) (-3.6,-23.1) (4.0,-21.9) (10.2,-22.6) (18.7,-23.0) (24.6,-22.0)
(-35.5,-25.8) (-28.4,-25.3) (-21.7,-26.1) (-13.5,-24.9) (-8.0,-25.6) (-0.4,-26.0) (5.8,-25.0) (14.3,-25.8) (20.2,-25.3)
(-32.0,-29.1) (-24.9,-27.9) (-18.2,-28.6) (-10.0,-29.0) (-4.5,-28.0) (3.1,-28.8) (9.3,-28.3) (17.8,-29.1)
(-30.5,-30.9) (-24.6,-31.6) (-17.5,-32.0) (-10.8,-31.0) (-2.6,-31.8) (2.9,-31.3) (10.5,-32.1) (16.7,-30.9)
(-27.0,-34.6) (-18.5,-35.0) (-12.6,-34.0) (-5.5,-34.8) (1.2,-34.3) (9.4,-35.1) (14.9,-33.9)
(-23.0,-37.6) (-15.4,-38.0) (-9.2,-37.0) (-0.7,-37.8) (5.2,-37.3) (12.3,-38.1)
(-18.0,-39.9) (-11.3,-40.6) (-3.1,-41.0) (2.4,-40.0) (10.0,-40.8)
(-15.0,-43.9) (-6.0,-43.8) (3.0,-42.8) (9.5,-43.2)
};
\addplot[sel, forget plot] coordinates {(38.4,5.5) (36.2,6.0) (37.5,7.6)};
\addplot[ven, forget plot] coordinates {(-2.7,40.7) (-3.0,39.3) (-1.1,37.0)};
\addplot[pal, forget plot] coordinates {(2.3,42.5) (4.2,42.9) (3.0,41.8)};
\end{axis}

% ---------- titles ----------
\node[ttl] at (156pt,371pt) {\begin{tabular}[t]{@{}c@{}}MaskedLM + Permute\\ + PhysChem\\[2pt] $0.323 \pm 0.0071$\end{tabular}};
\node[ttl] at (505pt,345pt) {\begin{tabular}[t]{@{}c@{}}PhysChem + Permute\\[2pt] $0.293 \pm 0.071$\end{tabular}};
\node[ttl] at (852pt,376pt) {\begin{tabular}[t]{@{}c@{}}MaskedLM + SMILES-Eq\\ + PhysChem + Permute\\[2pt] $0.246 \pm 0.041$\end{tabular}};
\end{tikzpicture}
\end{document}
